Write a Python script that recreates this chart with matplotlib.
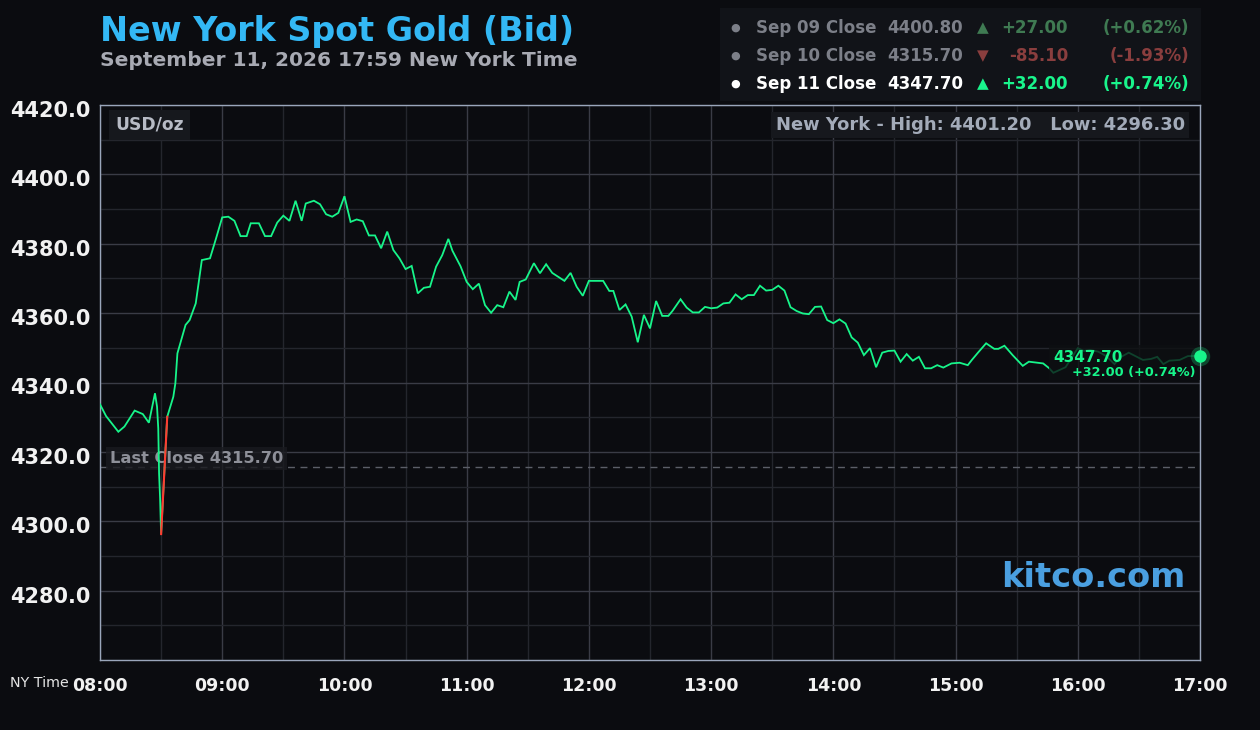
import matplotlib
matplotlib.use("Agg")
import matplotlib.pyplot as plt
from matplotlib.patches import Rectangle
from matplotlib.ticker import MultipleLocator, FixedLocator, FuncFormatter
import matplotlib.transforms as mtransforms

# ---------------- data ----------------
minutes = [0, 3, 9, 12, 17, 21, 24, 27, 28, 28.6, 29, 29.5, 30,
           33, 36, 37, 38, 42, 44, 47, 50, 54, 57, 60, 63, 66, 69, 72, 74, 78,
           81, 84, 87, 90, 93, 96, 99, 101, 105, 108, 111, 114, 117, 120, 123,
           126, 129, 132, 135, 138, 141, 144, 147, 150, 153, 156, 159, 162, 165,
           168, 171, 173, 177, 180, 183, 186, 189, 192, 195, 198, 201, 204, 206,
           209, 213, 216, 219, 222, 228, 231, 234, 237, 240, 247, 250, 252, 255,
           258, 261, 264, 267, 270, 273, 276, 279, 281, 285, 288, 291, 294, 297,
           300, 303, 306, 309, 312, 315, 318, 321, 324, 327, 330, 333, 336, 339,
           342, 345, 348, 351, 354, 357, 360, 363, 366, 369, 372, 375, 378, 381,
           384, 387, 390, 393, 396, 399, 402, 405, 408, 411, 414, 418, 422, 426,
           428, 431, 435, 439, 441, 444, 448, 453, 456, 460, 463, 466, 468, 471,
           474, 480, 483, 486, 490, 494, 498, 501, 505, 509, 512, 516, 519, 522,
           525, 530, 534, 540]
price = [4333.7, 4330.3, 4325.8, 4327.3, 4331.9, 4330.9, 4328.4, 4336.9, 4333.0, 4326.8, 4313.8, 4306.6, 4296.3,
         4330.1, 4335.9, 4339.8, 4348.4, 4356.6, 4358.0, 4362.8, 4375.3, 4375.8, 4381.6, 4387.6, 4387.8, 4386.6, 4382.2, 4382.2, 4385.9, 4385.9,
         4382.2, 4382.2, 4386.1, 4388.1, 4386.6, 4392.4, 4386.6, 4391.6, 4392.4, 4391.4, 4388.5, 4387.8, 4388.9, 4393.7, 4386.3,
         4387.0, 4386.5, 4382.4, 4382.4, 4378.7, 4383.5, 4378.2, 4375.8, 4372.7, 4373.6, 4365.7, 4367.3, 4367.6, 4373.4,
         4376.7, 4381.4, 4378.0, 4373.5, 4369.0, 4366.9, 4368.5, 4362.3, 4360.1, 4362.3, 4361.7, 4366.2, 4363.8, 4369.0,
         4369.7, 4374.4, 4371.5, 4374.1, 4371.6, 4369.3, 4371.6, 4367.6, 4365.0, 4369.3, 4369.3, 4366.4, 4366.4, 4360.9,
         4362.5, 4359.0, 4351.6, 4359.5, 4355.6, 4363.5, 4359.2, 4359.2, 4360.6, 4364.0, 4361.6, 4360.2, 4360.2, 4361.8,
         4361.4, 4361.6, 4362.8, 4363.0, 4365.4, 4364.0, 4365.2, 4365.2, 4367.9, 4366.5, 4366.7, 4367.9, 4366.5, 4361.7,
         4360.6, 4359.9, 4359.7, 4361.8, 4361.9, 4358.0, 4357.1, 4358.2, 4357.0, 4353.0, 4351.5, 4347.9, 4349.9, 4344.4,
         4348.6, 4349.1, 4349.2, 4346.0, 4348.2, 4346.3, 4347.4, 4344.1, 4344.1, 4345.0, 4344.3, 4345.5, 4345.7, 4345.0,
         4346.5, 4348.6, 4351.3, 4349.7, 4349.7, 4350.6, 4347.9, 4344.8, 4346.0, 4345.7, 4345.5, 4344.1, 4342.8, 4343.6,
         4344.4, 4349.9, 4349.1, 4349.4, 4348.9, 4347.6, 4345.3, 4347.3, 4348.6, 4347.4, 4346.5, 4346.8, 4347.4, 4345.3,
         4346.3, 4346.5, 4347.6, 4347.7]

hour_labels = ["08:00", "09:00", "10:00", "11:00", "12:00", "13:00", "14:00", "15:00", "16:00", "17:00"]
y_labels = [4280, 4300, 4320, 4340, 4360, 4380, 4400, 4420]

last_close = 4315.70
day_high = 4401.20
day_low = 4296.30

close_dates = ["Sep 09", "Sep 10", "Sep 11"]
close_values = [4400.80, 4315.70, 4347.70]
close_changes = [27.00, -85.10, 32.00]
close_pcts = [0.62, -1.93, 0.74]

# ---------------- style ----------------
BG = "#0b0c10"
LINE = "#17f58a"
W, H = 1260, 730

fig = plt.figure(figsize=(W / 100, H / 100), dpi=100, facecolor=BG)


def fx(px):
    return px / W


def fy(py):
    return 1 - py / H


ax = fig.add_axes([fx(100), fy(660), fx(1100), 555 / H])
ax.set_facecolor(BG)
ax.set_xlim(0, 540)
ax.set_ylim(4260, 4420)

for s in ax.spines.values():
    s.set_color("#9aa6bb")
    s.set_linewidth(1.0)

ax.xaxis.set_major_locator(FixedLocator([60 * i for i in range(len(hour_labels))]))
ax.xaxis.set_major_formatter(FuncFormatter(
    lambda v, p: hour_labels[int(round(v / 60))] if 0 <= int(round(v / 60)) < len(hour_labels) else ""))
ax.xaxis.set_minor_locator(MultipleLocator(30))
ax.yaxis.set_major_locator(FixedLocator(y_labels))
ax.yaxis.set_major_formatter(FuncFormatter(lambda v, p: f"{v:.1f}"))
ax.yaxis.set_minor_locator(MultipleLocator(10))

ax.grid(which="major", color="#3a3c46", linewidth=1.0)
ax.grid(which="minor", color="#24262d", linewidth=1.0)
ax.set_axisbelow(True)

ax.tick_params(axis="both", which="both", length=0)
ax.tick_params(axis="y", pad=7, labelsize=15, labelcolor="#f2f2f2")
ax.tick_params(axis="x", pad=12, labelsize=12.5, labelcolor="#f2f2f2")
for lab in ax.get_yticklabels():
    lab.set_fontweight("bold")
    lab.set_transform(lab.get_transform() + mtransforms.ScaledTranslation(0, -4 / 100, fig.dpi_scale_trans))
for lab in ax.get_xticklabels():
    lab.set_fontweight("bold")

# last close dashed line
ax.axhline(last_close, color="#5c5f68", linewidth=1.0, linestyle=(0, (5, 4)), zorder=2)
ax.annotate(f"Last Close {last_close:.2f}", xy=(0, last_close), xycoords=ax.get_yaxis_transform(),
            xytext=(10, 8), textcoords="offset pixels",
            color="#8e9099", fontsize=11.7, fontweight="bold", va="center", ha="left", zorder=3,
            bbox=dict(boxstyle="square,pad=0.25", facecolor="#1a1b20", edgecolor="none", alpha=0.8))

# price line
ax.plot(minutes, price, color=LINE, linewidth=1.3, zorder=4, solid_joinstyle="miter")
ilow = price.index(min(price))
ax.plot(minutes[ilow:ilow + 2], price[ilow:ilow + 2], color="#ff3b30", linewidth=1.5, zorder=5)

# end label box (dims the line behind it)
ax.add_patch(Rectangle((949 / 1100, (660 - 380) / 555), 151 / 1100, 35 / 555, transform=ax.transAxes,
                       facecolor="#0d0f12", edgecolor="none", alpha=0.78, zorder=6))
ax.annotate(f"{close_values[-1]:.2f}", xy=(minutes[-1], price[-1]), xytext=(-147, -1.5), textcoords="offset pixels",
            color=LINE, fontsize=11, fontweight="bold", ha="left", va="center", zorder=7)
ax.annotate(f"+{close_changes[-1]:.2f} (+{close_pcts[-1]:.2f}%)", xy=(minutes[-1], price[-1]), xytext=(-4, -16.5),
            textcoords="offset pixels", color=LINE, fontsize=9.3, fontweight="bold", ha="right", va="center", zorder=7)
ax.plot([minutes[-1]], [price[-1]], marker="o", markersize=14, color=LINE, alpha=0.25, zorder=8, clip_on=False,
        markeredgewidth=0)
ax.plot([minutes[-1]], [price[-1]], marker="o", markersize=9, color=LINE, zorder=9, clip_on=False,
        markeredgewidth=0)

# in-axes labels
ax.text(15 / 1100, 1 - 20 / 555, "USD/oz", transform=ax.transAxes, color="#b7bbc5", fontsize=12.3,
        fontweight="bold", ha="left", va="center", zorder=7,
        bbox=dict(boxstyle="square,pad=0.35", facecolor="#16181d", edgecolor="none"))
ax.text(1 - 15 / 1100, 1 - 20 / 555, f"New York - High: {day_high:.2f}   Low: {day_low:.2f}", transform=ax.transAxes,
        color="#a3abb9", fontsize=12.9, fontweight="bold", ha="right", va="center", zorder=7,
        bbox=dict(boxstyle="square,pad=0.25", facecolor="#16181d", edgecolor="none"))
ax.text(1 - 15 / 1100, 1 - 473 / 555, "kitco.com", transform=ax.transAxes, color="#4a9fe0", fontsize=24.2,
        fontweight="bold", ha="right", va="center", zorder=7)

# header
fig.text(fx(100), fy(41), "New York Spot Gold (Bid)", color="#33b8f5", fontsize=24, fontweight="bold",
         ha="left", va="baseline")
fig.text(fx(100), fy(66), "September 11, 2026 17:59 New York Time", color="#a8aab3", fontsize=14.5,
         fontweight="bold", ha="left", va="baseline")
fig.text(fx(10), fy(683), "NY Time", color="#e6e6e6", fontsize=10.3, ha="left", va="center")

# legend panel
fig.patches.append(Rectangle((fx(720), fy(101)), fx(481), 93 / H, transform=fig.transFigure,
                             facecolor="#111318", edgecolor="none", zorder=0))
row_y = [28, 56, 84]
for i, (d, v, c, p) in enumerate(zip(close_dates, close_values, close_changes, close_pcts)):
    latest = i == len(close_dates) - 1
    y = fy(row_y[i])
    txtc = "#ffffff" if latest else "#7c7f88"
    if c >= 0:
        chg = "#19f58c" if latest else "#3f7a52"
        arrow = "\u25B2"
    else:
        chg = "#ff4a40" if latest else "#8a3e3e"
        arrow = "\u25BC"
    fig.text(fx(735), y, "\u25CF", color=txtc, fontsize=8, ha="center", va="center")
    fig.text(fx(756), y, f"{d} Close", color=txtc, fontsize=12, fontweight="bold", ha="left", va="center")
    fig.text(fx(887), y, f"{v:.2f}", color=txtc, fontsize=12, fontweight="bold", ha="left", va="center")
    fig.text(fx(983), y, arrow, color=chg, fontsize=11, ha="center", va="center")
    fig.text(fx(1068), y, f"{c:+.2f}", color=chg, fontsize=12, fontweight="bold", ha="right", va="center")
    fig.text(fx(1189), y, f"({p:+.2f}%)", color=chg, fontsize=12, fontweight="bold", ha="right", va="center")

fig.savefig("out.png", dpi=100, facecolor=BG)
